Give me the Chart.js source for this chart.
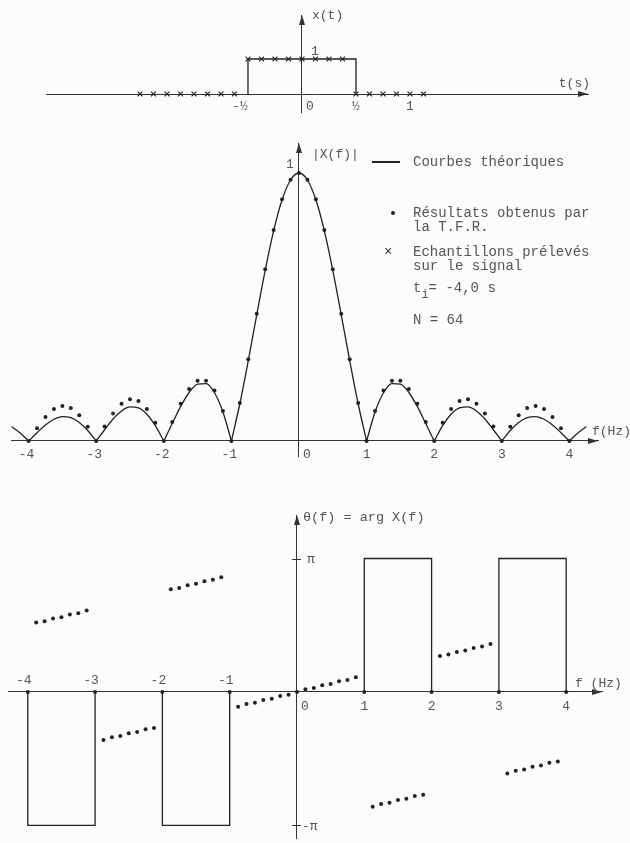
<!DOCTYPE html>
<html lang="fr">
<head>
<meta charset="utf-8">
<title>T.F.R. d'une porte</title>
<script src="https://cdn.jsdelivr.net/npm/chart.js@4.4.1/dist/chart.umd.min.js"></script>
<style>
  html, body { margin: 0; padding: 0; background: #fcfcfb; }
  #page {
    position: relative; width: 630px; height: 843px; overflow: hidden;
    font-family: "Liberation Mono", "DejaVu Sans Mono", monospace; color: #555;
  }
  #page canvas { position: absolute; left: 0; }
  .leg { position: absolute; font-size: 14px; line-height: 14px; white-space: nowrap; }
  .leg sub { font-size: 12px; vertical-align: -6px; line-height: 0; }
  .trait { position: absolute; height: 1px; background: #222; border-top: 0.4px solid #222; }
  .point { position: absolute; width: 4px; height: 4px; border-radius: 50%; background: #222; }
</style>
</head>
<body>
<div id="page">
  <canvas id="chartSignal" width="630" height="125" style="top:0"></canvas>
  <canvas id="chartModule" width="630" height="345" style="top:125px"></canvas>
  <canvas id="chartPhase"  width="630" height="373" style="top:470px"></canvas>

  <!-- légende -->
  <div class="trait" style="left:372px; top:161px; width:28px"></div>
  <div class="leg" style="left:413px; top:155px">Courbes théoriques</div>
  <div class="point" style="left:391px; top:211px"></div>
  <div class="leg" style="left:413px; top:206px">Résultats obtenus par</div>
  <div class="leg" style="left:413px; top:220px">la T.F.R.</div>
  <div class="leg" style="left:384px; top:245px; color:#333">×</div>
  <div class="leg" style="left:413px; top:245px">Echantillons prélevés</div>
  <div class="leg" style="left:413px; top:259px">sur le signal</div>
  <div class="leg" style="left:413px; top:281px">t<sub>i</sub>= -4,0 s</div>
  <div class="leg" style="left:413px; top:313px">N = 64</div>
</div>

<script>
/* ---- Constantes de style ---- */
const COULEUR_TRAIT = "#222";
const COULEUR_AXE   = "#333";
const COULEUR_TEXTE = "#555";
const POLICE        = "'Liberation Mono', 'DejaVu Sans Mono', monospace";

/* ================================================
   DONNÉES — signal x(t)
   ================================================ */
const porteT = [-0.5, -0.5, 0.5, 0.5];
const porteX = [0, 1, 1, 0];

const echT = [-1.5, -1.375, -1.25, -1.125, -1, -0.875, -0.75, -0.625,
              -0.5, -0.375, -0.25, -0.125, 0, 0.125, 0.25, 0.375,
              0.5, 0.625, 0.75, 0.875, 1, 1.125];
const echX = [0, 0, 0, 0, 0, 0, 0, 0,
              1, 1, 1, 1, 1, 1, 1, 1,
              0, 0, 0, 0, 0, 0];

/* ================================================
   DONNÉES — module |X(f)|
   ================================================ */
const freqTheo = [-4.25, -4.125, -4, -3.875, -3.75, -3.625, -3.5, -3.375, -3.25, -3.125,
                  -3, -2.875, -2.75, -2.625, -2.5, -2.375, -2.25, -2.125,
                  -2, -1.875, -1.75, -1.625, -1.5, -1.375, -1.25, -1.125,
                  -1, -0.875, -0.75, -0.625, -0.5, -0.375, -0.25, -0.125,
                  0, 0.125, 0.25, 0.375, 0.5, 0.625, 0.75, 0.875,
                  1, 1.125, 1.25, 1.375, 1.5, 1.625, 1.75, 1.875,
                  2, 2.125, 2.25, 2.375, 2.5, 2.625, 2.75, 2.875,
                  3, 3.125, 3.25, 3.375, 3.5, 3.625, 3.75, 3.875,
                  4, 4.125, 4.25];
const moduleTheo = [0.053, 0.030, 0, 0.031, 0.060, 0.081, 0.091, 0.087, 0.069, 0.039,
                    0, 0.042, 0.082, 0.112, 0.127, 0.124, 0.100, 0.057,
                    0, 0.065, 0.129, 0.181, 0.212, 0.214, 0.180, 0.108,
                    0, 0.139, 0.300, 0.471, 0.637, 0.784, 0.900, 0.974,
                    1, 0.974, 0.900, 0.784, 0.637, 0.471, 0.300, 0.139,
                    0, 0.108, 0.180, 0.214, 0.212, 0.181, 0.129, 0.065,
                    0, 0.057, 0.100, 0.124, 0.127, 0.112, 0.082, 0.042,
                    0, 0.039, 0.069, 0.087, 0.091, 0.081, 0.060, 0.031,
                    0, 0.030, 0.053];

const freqTFR = [-4, -3.875, -3.75, -3.625, -3.5, -3.375, -3.25, -3.125,
                 -3, -2.875, -2.75, -2.625, -2.5, -2.375, -2.25, -2.125,
                 -2, -1.875, -1.75, -1.625, -1.5, -1.375, -1.25, -1.125,
                 -1, -0.875, -0.75, -0.625, -0.5, -0.375, -0.25, -0.125,
                 0, 0.125, 0.25, 0.375, 0.5, 0.625, 0.75, 0.875,
                 1, 1.125, 1.25, 1.375, 1.5, 1.625, 1.75, 1.875,
                 2, 2.125, 2.25, 2.375, 2.5, 2.625, 2.75, 2.875,
                 3, 3.125, 3.25, 3.375, 3.5, 3.625, 3.75, 3.875, 4];
const moduleTFR = [0, 0.048, 0.090, 0.119, 0.131, 0.123, 0.096, 0.053,
                   0, 0.054, 0.103, 0.139, 0.156, 0.149, 0.119, 0.068,
                   0, 0.071, 0.139, 0.194, 0.225, 0.225, 0.188, 0.112,
                   0, 0.142, 0.305, 0.475, 0.641, 0.787, 0.902, 0.975,
                   1, 0.975, 0.902, 0.787, 0.641, 0.475, 0.305, 0.142,
                   0, 0.112, 0.188, 0.225, 0.225, 0.194, 0.139, 0.071,
                   0, 0.068, 0.119, 0.149, 0.156, 0.139, 0.103, 0.054,
                   0, 0.053, 0.096, 0.123, 0.131, 0.119, 0.090, 0.048, 0];

/* ================================================
   DONNÉES — phase θ(f), en multiples de π
   ================================================ */
const phaseTFR = [0, 0.52, 0.53, 0.55, 0.56, 0.58, 0.59, 0.61,
                  0, -0.36, -0.34, -0.33, -0.31, -0.30, -0.28, -0.27,
                  0, 0.77, 0.78, 0.80, 0.81, 0.83, 0.84, 0.86,
                  0, -0.11, -0.09, -0.08, -0.06, -0.05, -0.03, -0.02,
                  0, 0.02, 0.03, 0.05, 0.06, 0.08, 0.09, 0.11,
                  0, -0.86, -0.84, -0.83, -0.81, -0.80, -0.78, -0.77,
                  0, 0.27, 0.28, 0.30, 0.31, 0.33, 0.34, 0.36,
                  0, -0.61, -0.59, -0.58, -0.56, -0.55, -0.53, -0.52, 0];

const creneauDebut  = [-4, -2, 1, 3];
const creneauFin    = [-3, -1, 2, 4];
const creneauNiveau = [-1, -1, 1, 1];

/* ---- Graduations ---- */
const gradSignal  = [-0.5, 0.5, 1];
const labelSignal = ["-½", "½", "1"];
const gradFreq    = [-4, -3, -2, -1, 1, 2, 3, 4];

/* ================================================
   HELPERS
   ================================================ */
function points(xs, ys) {
  return xs.map((x, i) => ({ x, y: ys[i] }));
}

// découpe la courbe théorique en lobes (un zéro = un point anguleux)
function lobes(xs, ys) {
  const morceaux = [];
  let courant = [];
  xs.forEach((x, i) => {
    courant.push({ x, y: ys[i] });
    if (ys[i] === 0 && courant.length > 1) {
      morceaux.push(courant);
      courant = [{ x, y: 0 }];
    }
  });
  if (courant.length > 1) morceaux.push(courant);
  return morceaux;
}

function courbe(data, lisse) {
  return {
    data, showLine: true, pointRadius: 0,
    borderColor: COULEUR_TRAIT, borderWidth: 1.3,
    cubicInterpolationMode: lisse ? "monotone" : "default", tension: 0,
  };
}

function nuage(data, style, rayon) {
  return {
    data, showLine: false, pointStyle: style, pointRadius: rayon,
    pointBackgroundColor: COULEUR_TRAIT, pointBorderColor: COULEUR_TRAIT,
    pointBorderWidth: style === "crossRot" ? 1.1 : 0,
  };
}

function fleche(ctx, x, y, sens) {
  ctx.beginPath();
  if (sens === "droite") {
    ctx.moveTo(x, y); ctx.lineTo(x - 10, y - 3); ctx.lineTo(x - 10, y + 3);
  } else {
    ctx.moveTo(x, y); ctx.lineTo(x - 3, y + 10); ctx.lineTo(x + 3, y + 10);
  }
  ctx.closePath();
  ctx.fill();
}

/* ---- Plugin : flèches, textes et petits traits près des axes ---- */
const decorAxes = {
  id: "decor",
  afterDraw(chart, args, opts) {
    const { ctx, chartArea, scales: { x, y } } = chart;
    const x0 = x.getPixelForValue(0);
    const y0 = y.getPixelForValue(0);
    ctx.save();
    ctx.fillStyle = COULEUR_AXE;
    fleche(ctx, chartArea.right, y0, "droite");
    fleche(ctx, x0, chartArea.top, "haut");

    ctx.strokeStyle = COULEUR_AXE;
    ctx.lineWidth = 1;
    (opts.traits || []).forEach(v => {
      const py = Math.round(y.getPixelForValue(v)) + 0.5;
      ctx.beginPath(); ctx.moveTo(x0 - 5, py); ctx.lineTo(x0 + 4, py); ctx.stroke();
    });

    ctx.fillStyle = COULEUR_TEXTE;
    ctx.textBaseline = "middle";
    (opts.textes || []).forEach(t => {
      ctx.font = (t.taille || 13) + "px " + POLICE;
      ctx.textAlign = t.align || "center";
      ctx.fillText(t.txt, x.getPixelForValue(t.x) + (t.dx || 0), y.getPixelForValue(t.y) + (t.dy || 0));
    });
    ctx.restore();
  }
};

function axes(xmin, xmax, ymin, ymax) {
  const commun = {
    type: "linear",
    grid: { display: false },
    border: { display: true, color: COULEUR_AXE, width: 1 },
    ticks: { display: false },
  };
  return {
    x: { ...commun, min: xmin, max: xmax, position: { y: 0 } },
    y: { ...commun, min: ymin, max: ymax, position: { x: 0 } },
  };
}

function creerGraphe(id, datasets, padding, echelles, decor) {
  return new Chart(document.getElementById(id), {
    type: "scatter",
    data: { datasets },
    options: {
      responsive: false,
      animation: false,
      layout: { autoPadding: false, padding },
      scales: echelles,
      plugins: { legend: { display: false }, tooltip: { enabled: false }, decor },
    },
    plugins: [decorAxes],
  });
}

/* ================================================
   1. SIGNAL x(t)
   ================================================ */
creerGraphe("chartSignal",
  [courbe(points(porteT, porteX), false), nuage(points(echT, echX), "crossRot", 3.5)],
  { left: 46, right: 42, top: 15, bottom: 13 },
  axes(-2.370, 2.648, -0.514, 2.257),
  {
    textes: [
      { txt: "x(t)", x: 0, y: 2.257, dx: 10, dy: 1, align: "left" },
      { txt: "1", x: 0, y: 1, dx: 13, dy: -7 },
      { txt: "t(s)", x: 2.648, y: 0, dx: 2, dy: -10, align: "right" },
      { txt: "0", x: 0, y: 0, dx: 4, dy: 13, align: "left" },
      ...gradSignal.map((g, i) => ({ txt: labelSignal[i], x: g, y: 0, dx: g < 0 ? -8 : 0, dy: 13 })),
    ],
  });

/* ================================================
   2. MODULE |X(f)|
   ================================================ */
creerGraphe("chartModule",
  [...lobes(freqTheo, moduleTheo).map(l => courbe(l, true)), nuage(points(freqTFR, moduleTFR), "circle", 2)],
  { left: 11, right: 32, top: 18, bottom: 14 },
  axes(-4.260, 4.423, -0.056, 1.112),
  {
    textes: [
      { txt: "|X(f)|", x: 0, y: 1.112, dx: 13, dy: 12, align: "left" },
      { txt: "1", x: 0, y: 1, dx: -9, dy: -8 },
      { txt: "f(Hz)", x: 4.423, y: 0, dx: -6, dy: -9, align: "left" },
      { txt: "0", x: 0, y: 0, dx: 4, dy: 14, align: "left" },
      ...gradFreq.map(g => ({ txt: String(g), x: g, y: 0, dx: g < 0 ? -2 : 0, dy: 14 })),
    ],
  });

/* ================================================
   3. PHASE θ(f) = arg X(f)
   ================================================ */
const creneaux = creneauDebut.map((a, i) => courbe([
  { x: a, y: 0 }, { x: a, y: creneauNiveau[i] },
  { x: creneauFin[i], y: creneauNiveau[i] }, { x: creneauFin[i], y: 0 },
], false));

creerGraphe("chartPhase",
  [...creneaux, nuage(points(freqTFR, phaseTFR), "circle", 2)],
  { left: 8, right: 28, top: 45, bottom: 5 },
  axes(-4.294, 4.532, -1.094, 1.326),
  {
    traits: [1, -1],
    textes: [
      { txt: "θ(f) = arg X(f)", x: 0, y: 1.326, dx: 6, dy: 2, align: "left", taille: 13.5 },
      { txt: "π", x: 0, y: 1, dx: 10, dy: 1, align: "left" },
      { txt: "-π", x: 0, y: -1, dx: 5, dy: 1, align: "left" },
      { txt: "f (Hz)", x: 4.532, y: 0, dx: -27, dy: -8, align: "left" },
      { txt: "0", x: 0, y: 0, dx: 4, dy: 15, align: "left" },
      ...gradFreq.map(g => ({ txt: String(g), x: g, y: 0, dx: g < 0 ? -4 : 0, dy: g < 0 ? -11 : 15 })),
    ],
  });
</script>
</body>
</html>
